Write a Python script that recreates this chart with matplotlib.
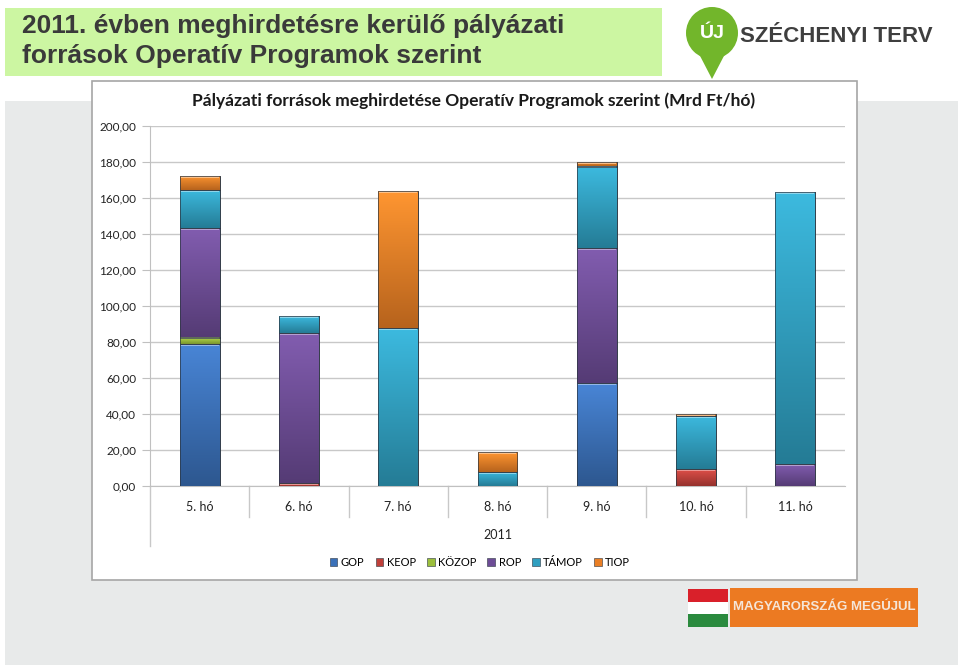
import matplotlib
matplotlib.use("Agg")
import matplotlib.pyplot as plt
import matplotlib.patches as mpatches
import matplotlib.transforms as mtransforms
import numpy as np

months = ["5. hó", "6. hó", "7. hó", "8. hó", "9. hó", "10. hó", "11. hó"]
series_names = ["GOP", "KEOP", "KÖZOP", "ROP", "TÁMOP", "TIOP"]
gop = [79.0, 0.0, 0.0, 0.0, 57.0, 0.0, 0.0]
keop = [0.0, 1.5, 0.0, 0.0, 0.0, 9.3, 0.0]
kozop = [3.5, 0.0, 0.0, 0.0, 0.0, 0.0, 0.0]
rop = [60.8, 83.5, 0.0, 0.0, 75.1, 0.0, 12.2]
tamop = [21.3, 9.2, 87.7, 8.0, 45.4, 29.6, 151.3]
tiop = [7.8, 0.0, 76.2, 10.9, 2.4, 1.0, 0.0]
yticks = [0, 20, 40, 60, 80, 100, 120, 140, 160, 180, 200]
ytick_labels = ["0,00", "20,00", "40,00", "60,00", "80,00", "100,00",
                "120,00", "140,00", "160,00", "180,00", "200,00"]
colors = ["#3a70b8", "#c0403a", "#9cbf3c", "#6d4c96", "#2f9fc0", "#ea7f25"]

title_text = "2011. évben meghirdetésre kerülő pályázati\nforrások Operatív Programok szerint"
chart_title = "Pályázati források meghirdetése Operatív Programok szerint (Mrd Ft/hó)"
xaxis_title = "2011"

W, H = 960, 667
fig = plt.figure(figsize=(9.6, 6.67), dpi=100)
fig.patch.set_facecolor("white")

def px_rect(x0, y0, x1, y1, **kw):
    r = mpatches.Rectangle((x0 / W, 1 - y1 / H), (x1 - x0) / W, (y1 - y0) / H,
                           transform=fig.transFigure, **kw)
    fig.add_artist(r)
    return r

# gray background
px_rect(5, 101, 958, 665, facecolor="#e8eaea", edgecolor="none", zorder=0)
# green title box
px_rect(5, 8, 662, 76, facecolor="#ccf6a2", edgecolor="none", zorder=1)
fig.text(22 / W, 1 - 41 / H, title_text, ha="left", va="center",
         fontsize=19, fontweight="bold", color="#3a3a3a", linespacing=1.3,
         family=["Liberation Sans", "DejaVu Sans"], zorder=2)
# chart box
px_rect(92, 81, 857, 580, facecolor="white", edgecolor="#a6a6a6", linewidth=1.2, zorder=1)

# logo top right
pin = mpatches.Ellipse((712 / W, 1 - 33 / H), 52 / W, 52 / H, transform=fig.transFigure,
                       facecolor="#72b62b", edgecolor="none", zorder=3)
fig.add_artist(pin)
tri = mpatches.Polygon([(698 / W, 1 - 52 / H), (726 / W, 1 - 52 / H), (712 / W, 1 - 79 / H)],
                       closed=True, transform=fig.transFigure, facecolor="#72b62b",
                       edgecolor="none", zorder=3)
fig.add_artist(tri)
fig.text(712 / W, 1 - 34 / H, "ÚJ", ha="center", va="center", color="white",
         fontsize=14, fontweight="bold", family=["Liberation Sans", "DejaVu Sans"], zorder=4)
fig.text(740 / W, 1 - 36 / H, "SZÉCHENYI TERV", ha="left", va="center", color="#3f3f3f",
         fontsize=16, fontweight="bold", family=["Liberation Sans", "DejaVu Sans"], zorder=4)

# bottom right logo
px_rect(688, 589, 728, 602, facecolor="#d9202a", edgecolor="none", zorder=2)
px_rect(688, 602, 728, 614, facecolor="white", edgecolor="none", zorder=2)
px_rect(688, 614, 728, 627, facecolor="#2a8a3e", edgecolor="none", zorder=2)
px_rect(730, 588, 918, 627, facecolor="#ec7a22", edgecolor="none", zorder=2)
fig.text(824 / W, 1 - 607 / H, "MAGYARORSZÁG MEGÚJUL", ha="center", va="center",
         color="#f5e6d8", fontsize=9.5, fontweight="bold",
         family=["Liberation Sans", "DejaVu Sans"], zorder=3)

# axes
ax = fig.add_axes([150 / W, 1 - 486 / H, (845 - 150) / W, (486 - 126) / H], zorder=5)
ax.set_facecolor("none")
x = np.arange(len(months))
data = [gop, keop, kozop, rop, tamop, tiop]
bottom = np.zeros(len(months))
handles = []
grad = np.linspace(1.0, 0.0, 64).reshape(-1, 1)
for name, vals, col in zip(series_names, data, colors):
    vals = np.array(vals)
    bars = ax.bar(x, vals, width=0.4, bottom=bottom, color=col, edgecolor="#2b3540",
                  linewidth=0.5, zorder=3, label=name)
    base = np.array(matplotlib.colors.to_rgb(col))
    light = np.clip(base * 1.12 + 0.03, 0, 1)
    dark = base * 0.78
    cmap = matplotlib.colors.LinearSegmentedColormap.from_list(name, [dark, light])
    for b in bars:
        if b.get_height() <= 0:
            continue
        x0, y0 = b.get_x(), b.get_y()
        w, h = b.get_width(), b.get_height()
        im = ax.imshow(grad, extent=(x0, x0 + w, y0, y0 + h), cmap=cmap, aspect="auto",
                       origin="upper", zorder=3.5, interpolation="bilinear")
        im.set_clip_path(b)
        ax.plot([x0 + 0.01, x0 + w - 0.01], [y0 + h - 0.5, y0 + h - 0.5],
                color=light * 0.5 + 0.5, lw=1.2, zorder=3.6, solid_capstyle="butt")
        ax.add_patch(mpatches.Rectangle((x0, y0), w, h, fill=False, edgecolor="#2b3540",
                                        linewidth=0.5, zorder=3.7))
    handles.append(mpatches.Patch(facecolor=col, edgecolor="#2b3540", linewidth=0.4, label=name))
    bottom += vals

ax.set_xlim(-0.5, len(months) - 0.5)
ax.set_ylim(0, 200)
ax.set_yticks(yticks)
ax.set_yticklabels(ytick_labels)
ax.yaxis.grid(True, color="#c8c8c8", linewidth=1.0, zorder=0)
ax.set_axisbelow(True)
for s in ["top", "right"]:
    ax.spines[s].set_visible(False)
ax.spines["bottom"].set_color("#c0c0c0")
ax.spines["left"].set_color("#c0c0c0")
ax.tick_params(axis="y", length=6, color="#c0c0c0", labelsize=8.5, labelcolor="#222222", pad=4)
ax.set_xticks(x)
ax.set_xticklabels(months)
ax.tick_params(axis="x", length=0, labelsize=9, labelcolor="#222222", pad=11)
for lbl in ax.get_xticklabels() + ax.get_yticklabels():
    lbl.set_family(["Lato", "DejaVu Sans"])

trans = mtransforms.blended_transform_factory(ax.transData, ax.transAxes)
for i in range(1, len(months)):
    ax.plot([i - 0.5, i - 0.5], [0, -31 / 360], color="#c8c8c8", lw=1.0,
            transform=trans, clip_on=False)
ax.plot([-0.5, -0.5], [0, -60 / 360], color="#c8c8c8", lw=1.0, transform=trans, clip_on=False)

fig.text(498 / W, 1 - 535 / H, xaxis_title, ha="center", va="center", fontsize=9,
         color="#222222", family=["Lato", "DejaVu Sans"], zorder=6)
fig.text(474 / W, 1 - 101 / H, chart_title, ha="center", va="center", fontsize=12.5,
         fontweight="bold", color="#1a1a1a", family=["Lato", "DejaVu Sans"], zorder=6)

leg = fig.legend(handles=handles, loc="center", bbox_to_anchor=(480 / W, 1 - 562 / H),
                 ncol=6, frameon=False, handlelength=0.7, handleheight=0.7,
                 handletextpad=0.3, columnspacing=1.0, prop={"family": ["Lato", "DejaVu Sans"], "size": 8})
leg.set_zorder(6)

fig.savefig("out.png", dpi=100, facecolor="white")
